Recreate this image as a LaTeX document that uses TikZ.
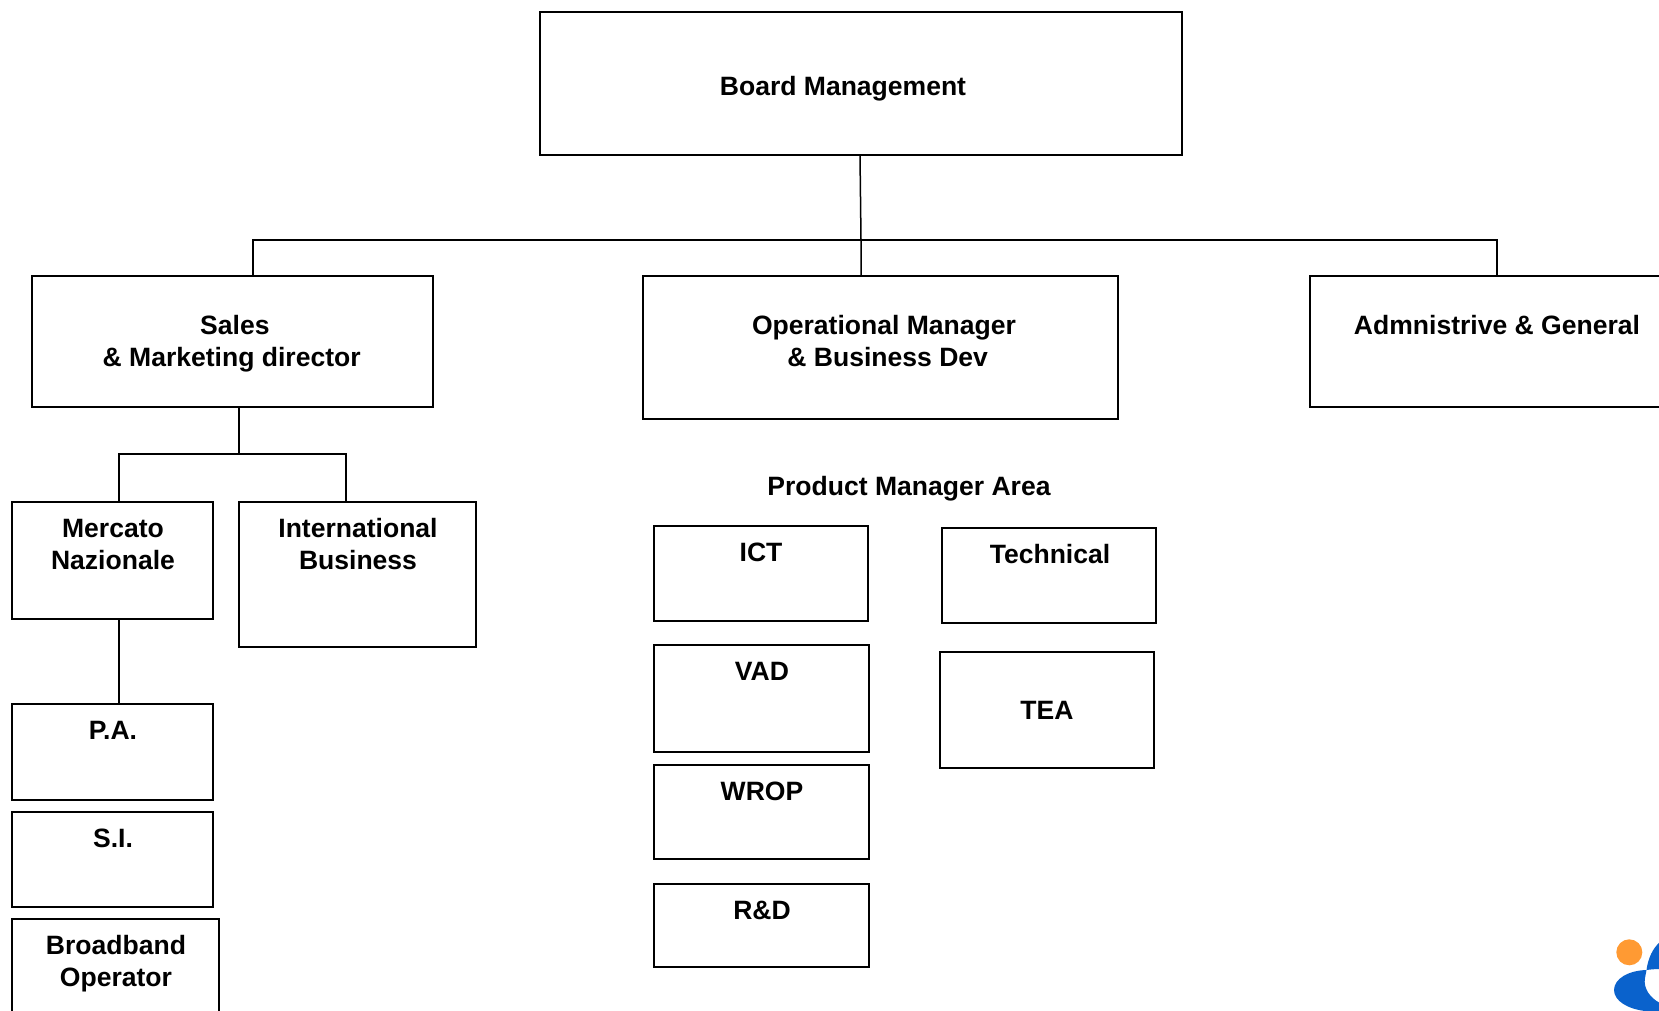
\documentclass[tikz,border=0pt]{standalone}
\usepackage{fontspec}
\setmainfont{Liberation Sans}
\definecolor{logoblue}{HTML}{0A62CC}
\definecolor{logoorange}{HTML}{FF9A33}
\tikzset{
  x=0.75pt,y=-0.75pt,
  conn/.style={draw=black,line width=1.5pt*0.75,line join=miter},
  bx/.style={draw=black,line width=1.5pt,rectangle,inner sep=0pt,outer sep=0pt},
  lbl/.style={font=\fontsize{19.9pt}{24.2pt}\selectfont\bfseries,align=center,inner sep=0pt,text=black},
}
\newcommand{\boxat}[5]{\node[bx,minimum width={(#4-#2)*0.75pt},minimum height={(#5-#3)*0.75pt}] (#1) at ({(#2+#4)/2},{(#3+#5)/2}) {};}
\begin{document}
\begin{tikzpicture}
\useasboundingbox (0,0) rectangle (1659,1010);
\clip (0,0) rectangle (1659,1010);
\boxat{board}{540}{11.7}{1182}{155.2}
\boxat{sales}{32}{275.5}{433}{406.5}
\boxat{oper}{643}{275.5}{1118}{418.5}
\boxat{admin}{1310}{275.5}{1720}{407}
\boxat{mercato}{12}{502}{213}{619}
\boxat{intl}{239}{502}{476}{646.5}
\boxat{pa}{12}{704}{213}{800}
\boxat{si}{12}{812}{213}{907}
\boxat{bband}{12}{919}{219}{1040}
\boxat{ict}{654}{525.5}{868}{621}
\boxat{vad}{654}{644.5}{868.5}{752}
\boxat{wrop}{654}{764.5}{868.5}{859}
\boxat{rd}{654}{883.5}{868.5}{967}
\boxat{tech}{942}{528}{1156}{623}
\boxat{tea}{940}{651.5}{1153.5}{768}
\node[lbl] (tboard) at (843,89) {Board Management};
\node[lbl] (tsales) at (231.7,344) {\hspace*{4.8pt}Sales\\\& Marketing director};
\node[lbl] (toper) at (884,341) {Operational Manager\\\hspace*{5.6pt}\& Business Dev};
\node[lbl] (tadmin) at (1497,325) {Admnistrive \& General};
\node[lbl] (tpma) at (909,489) {Product Manager Area};
\node[lbl] (tmercato) at (113,544.5) {Mercato\\Nazionale};
\node[lbl] (tintl) at (358,544) {International\\Business};
\node[lbl] (tpa) at (113,730) {P.A.};
\node[lbl] (tsi) at (113,838) {S.I.};
\node[lbl] (tbband) at (116,963.6) {Broadband\\Operator};
\node[lbl] (tict) at (761,552) {ICT};
\node[lbl] (tvad) at (762,671) {VAD};
\node[lbl] (twrop) at (762,791) {WROP};
\node[lbl] (trd) at (762,910) {R\&D};
\node[lbl] (ttech) at (1050,554) {Technical};
\node[lbl] (ttea) at (1047,710) {TEA};
\coordinate (topdrop) at (860,155.5);
\coordinate (busmid) at (861,240);
\coordinate (busl) at (253,240);
\coordinate (busr) at (1497,240);
\coordinate (s2) at (239,454);
\coordinate (s2l) at (119,454);
\coordinate (s2r) at (346,454);
\draw[conn] (topdrop) -- (busmid) -- (busmid |- oper.north);
\draw[conn] (busl |- sales.north) -- (busl) -- (busr) -- (busr |- admin.north);
\draw[conn] (s2 |- sales.south) -- (s2);
\draw[conn] (s2l |- mercato.north) -- (s2l) -- (s2r) -- (s2r |- intl.north);
\draw[conn] (s2l |- mercato.south) -- (s2l |- pa.north);
\fill[logoorange] (1629.3,952.3) circle (13);
\fill[logoblue] (1646.5,970) .. controls (1628,970.5) and (1614,979) .. (1614,990) .. controls (1614,1001) and (1628,1009) .. (1645,1011) -- (1660,1011) -- (1660,1003) .. controls (1650,998) and (1643,988) .. (1645,978) -- cycle;
\fill[logoblue] (1646.5,970) .. controls (1648,958) and (1653,948) .. (1660,942) -- (1660,969) .. controls (1655,969) and (1650,969.5) .. (1646.5,970) -- cycle;
\end{tikzpicture}
\end{document}
